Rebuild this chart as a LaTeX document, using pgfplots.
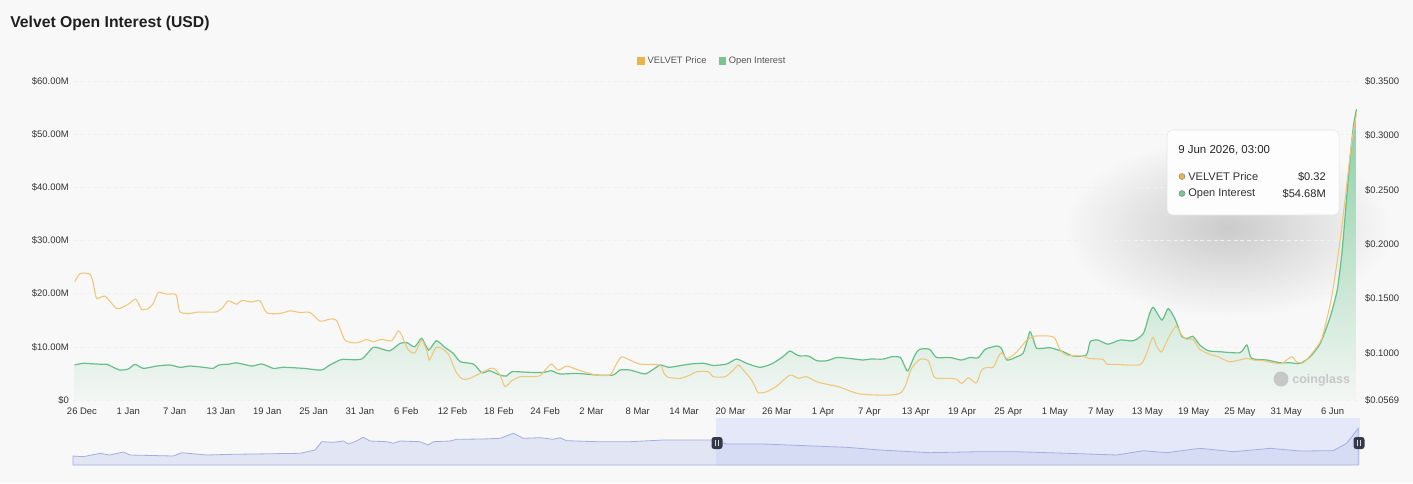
\documentclass[border=0pt]{standalone}
\usepackage{pgfplots}
\pgfplotsset{compat=1.18}
\usepackage{fontspec}
\setmainfont{Liberation Sans}

\definecolor{bg}{HTML}{F8F8F8}
\definecolor{priceC}{HTML}{F0C679}
\definecolor{priceL}{HTML}{E9B44C}
\definecolor{oiC}{HTML}{66BE88}
\definecolor{oiL}{HTML}{77C58F}
\definecolor{oiFill}{HTML}{7ECB9B}
\definecolor{txt}{HTML}{333333}
\definecolor{legtxt}{HTML}{555555}
\definecolor{navL}{HTML}{A3AEE0}
\definecolor{navF}{HTML}{C6CEF0}
\definecolor{navSel}{HTML}{E4E8F8}
\definecolor{handle}{HTML}{353A4A}

\pgfplotstableread{
day oi
-0.95 6.6
0.17 6.9
1.5 6.8
2.76 6.7
3.2 6.75
4.05 6.15
4.92 5.64
6.0 5.83
6.87 6.7
7.94 5.95
9.68 6.39
11.4 6.58
12.7 6.15
14.0 6.39
15.7 6.15
17.0 5.95
17.7 6.58
19.2 6.77
20.0 7.0
22.0 6.39
23.3 6.77
24.8 5.95
26.1 6.15
28.7 5.95
31.0 5.64
32.1 6.58
33.4 7.52
33.8 7.65
36.2 7.7
37.7 9.9
38.6 9.7
39.9 9.27
41.2 10.65
42.1 10.77
43.1 10.0
44.0 11.6
44.9 9.4
45.9 11.15
47.0 9.9
48.1 8.77
49.0 7.2
50.7 6.77
51.8 5.13
52.8 5.5
54.1 4.7
55.0 4.5
55.7 5.32
58.0 5.2
59.8 5.2
60.8 5.5
61.9 4.9
64.1 5.0
66.7 4.7
68.8 4.7
69.7 5.64
71.0 5.64
72.9 4.9
74.0 5.77
74.9 6.58
76.0 6.15
77.2 6.39
78.8 6.77
80.5 6.9
81.8 6.5
83.5 6.77
84.8 7.7
86.1 6.9
87.8 6.15
89.3 6.77
90.8 8.14
91.7 9.2
92.8 8.33
94.1 8.27
95.2 7.39
96.5 7.39
97.8 8.0
99.5 7.8
101.2 7.52
102.1 7.7
103.8 7.7
104.9 8.14
106.0 8.0
106.6 6.26
107.0 5.5
107.9 8.46
108.5 9.53
109.8 9.53
110.7 8.0
112.4 8.0
113.9 7.52
115.0 8.0
116.1 7.95
117.0 9.53
118.5 10.15
119.1 9.72
119.8 7.52
121.1 8.14
121.9 8.77
122.4 10.96
122.8 12.84
123.2 11.6
123.7 9.72
125.4 9.83
127.1 9.08
128.4 8.27
130.1 8.46
130.6 10.96
131.6 11.28
132.9 10.5
134.5 11.28
136.2 11.15
137.5 12.54
138.3 16.3
138.8 17.4
139.9 15.04
140.7 17.2
141.6 15.2
142.5 11.9
143.3 11.6
143.9 12.0
144.8 10.34
145.9 9.27
147.4 9.08
150.0 8.9
150.9 10.34
151.5 7.84
153.5 7.52
155.2 7.0
156.5 7.0
157.8 6.9
159.1 8.14
160.4 10.65
161.7 15.66
162.6 20.7
163.2 27.5
163.8 37.6
164.2 44.5
164.7 51.5
165.1 54.68
}\oitable

\pgfplotstableread{
day price
-0.95 0.1654
-0.26 0.1731
1.04 0.1724
1.46 0.1640
1.9 0.1502
2.98 0.1523
4.5 0.1410
5.79 0.1440
6.96 0.1495
7.73 0.1401
8.59 0.1410
9.24 0.1456
9.88 0.1557
10.97 0.1541
12.18 0.1535
12.69 0.1379
13.99 0.1364
14.86 0.1376
17.45 0.1379
18.3 0.1425
18.95 0.1480
20.04 0.1449
20.69 0.1483
21.98 0.1470
23.06 0.1480
23.93 0.1370
25.65 0.1364
26.94 0.1388
28.24 0.1373
29.53 0.1373
30.83 0.1293
32.12 0.1312
32.99 0.1300
34.07 0.1119
35.58 0.1094
36.88 0.1126
37.73 0.1104
38.82 0.1126
40.12 0.1113
40.97 0.1204
41.41 0.1164
42.27 0.1028
43.13 0.1003
44.0 0.1119
44.65 0.1028
44.99 0.0936
45.85 0.1052
46.59 0.1043
47.45 0.0991
48.54 0.0814
49.39 0.0759
50.26 0.0768
51.13 0.0798
52.42 0.0844
53.28 0.0862
54.15 0.0798
54.8 0.0691
55.66 0.0746
56.74 0.0783
58.03 0.0783
59.33 0.0792
60.19 0.0860
60.84 0.0899
61.7 0.0844
62.79 0.0881
64.08 0.0850
65.38 0.0820
66.67 0.0798
68.39 0.0798
69.26 0.0905
69.91 0.0966
70.98 0.0936
72.28 0.0899
74.87 0.0890
75.39 0.0814
75.95 0.0777
77.46 0.0768
78.76 0.0798
79.63 0.0829
81.13 0.0829
81.78 0.0783
83.29 0.0783
84.37 0.0844
85.02 0.0890
85.67 0.0844
86.75 0.0752
87.18 0.0691
87.6 0.0636
88.69 0.0645
89.99 0.0697
91.71 0.0798
92.79 0.0768
93.87 0.0783
95.17 0.0737
96.89 0.0707
97.97 0.0692
99.48 0.0652
100.78 0.0624
102.94 0.0615
104.66 0.0615
105.96 0.0630
106.61 0.0691
107.47 0.0860
108.55 0.0942
109.62 0.0930
110.27 0.0798
110.71 0.0768
112.44 0.0768
113.3 0.0759
113.95 0.0722
114.8 0.0774
115.25 0.0752
115.89 0.0728
116.54 0.0844
117.19 0.0869
118.04 0.0869
118.69 0.0966
119.13 0.1003
119.78 0.0951
120.63 0.0982
121.5 0.1043
122.37 0.1119
123.45 0.1156
125.39 0.1156
126.04 0.1135
126.68 0.1034
127.55 0.0982
129.7 0.0972
130.35 0.0951
132.29 0.0942
132.73 0.0899
134.03 0.0896
137.05 0.0893
137.91 0.0997
138.69 0.1144
139.29 0.1052
139.86 0.1012
140.71 0.1135
141.71 0.1248
142.45 0.1165
143.1 0.1126
143.87 0.1129
144.82 0.1034
146.11 0.0988
147.19 0.0966
148.7 0.0920
150.87 0.0951
151.72 0.0936
153.02 0.0930
154.31 0.0911
155.4 0.0905
156.7 0.0966
157.34 0.0920
158.2 0.0911
159.5 0.1012
160.6 0.1135
161.7 0.145
162.3 0.17
163.0 0.205
163.6 0.24
164.0 0.265
164.5 0.295
165.1 0.32
}\pricetable

\pgfplotstableread{
x h
73 9
83.3 8.3
100 11.7
110 10
123.3 13
130 10
173.3 9
181.7 12.3
206.7 10
233.3 10.7
300 11.7
315 15
321.7 23.3
333.3 22.7
343.3 24
348.3 21
355 23.3
363.3 27.7
370 24
386.7 23.3
393.3 21.7
400 24
420 23.3
428.3 20
433.3 23.3
450 24
456.7 25.7
483.3 26
500 26.7
513.3 31.7
523.3 26.7
540 27.3
553.3 25.7
560 27.3
566.7 24.3
596.7 23.3
630 23.3
663.3 25
713.3 25
726.7 21
763.3 21
813.3 19
846.7 17.7
880 15
930 12.3
980 13.3
1016.7 13.3
1066.7 11.7
1116.7 10
1143.3 14.3
1166.7 12.3
1200 16.7
1233.3 13.3
1260 15.7
1270 16.7
1300 14
1333.3 14.3
1346.7 21.7
1358.3 36.7
}\navtable

\begin{document}
\begin{tikzpicture}[x=0.75pt,y=0.75pt]
\fill[bg] (0,0) rectangle (1413,483);
\useasboundingbox (0,0) rectangle (1413,483);

% title
\node[anchor=west, inner sep=0pt, font=\fontsize{11.8}{14}\selectfont\bfseries, text=black!88] at (10,459.5) {Velvet Open Interest (USD)};

% tooltip shadow
\shade[inner color=black!18!bg, outer color=bg] (1228,255) ellipse [x radius=165, y radius=90];

% main axis: open interest (left)
\begin{axis}[
  at={(55.125pt,62.25pt)}, anchor=south west,
  scale only axis, width=962.6pt, height=239.25pt,
  xmin=-1.1, xmax=165.16, ymin=0, ymax=60,
  axis line style={draw=none}, major tick length=0pt,
  ytick={0,10,20,30,40,50,60},
  yticklabels={\$0,\$10.00M,\$20.00M,\$30.00M,\$40.00M,\$50.00M,\$60.00M},
  xtick={0,6,...,162},
  xticklabels={26 Dec,1 Jan,7 Jan,13 Jan,19 Jan,25 Jan,31 Jan,6 Feb,12 Feb,18 Feb,24 Feb,2 Mar,8 Mar,14 Mar,20 Mar,26 Mar,1 Apr,7 Apr,13 Apr,19 Apr,25 Apr,1 May,7 May,13 May,19 May,25 May,31 May,6 Jun},
  ymajorgrids, grid style={black!6, dash pattern=on 3pt off 2pt, line width=0.5pt},
  ticklabel style={font=\fontsize{7.1}{8}\selectfont, text=txt},
  xticklabel style={yshift=-2.25pt},
  legend columns=2,
  legend style={at={(0.498,1.063)}, anchor=center, draw=none, fill=none,
    font=\fontsize{7}{8}\selectfont, text=legtxt,
    /tikz/every even column/.append style={column sep=7pt}},
  legend image code/.code={\fill[#1] (0pt,-2.85pt) rectangle (5.7pt,2.85pt);},
]
\addlegendimage{fill=priceL, draw=none}
\addlegendentry{VELVET Price}
\addlegendimage{fill=oiL, draw=none}
\addlegendentry{Open Interest}
\addplot[draw=none, top color=oiFill!92!bg, bottom color=bg!96!oiFill, smooth, tension=0.4, forget plot] table[x=day,y=oi] {\oitable} \closedcycle;
\addplot[oiC, line width=0.9pt, smooth, tension=0.4, forget plot] table[x=day,y=oi] {\oitable};
\end{axis}

% price axis (right)
\begin{axis}[
  at={(55.125pt,62.25pt)}, anchor=south west,
  scale only axis, width=962.6pt, height=239.25pt,
  xmin=-1.1, xmax=165.16, ymin=0.0569, ymax=0.35,
  axis y line*=right, hide x axis,
  axis line style={draw=none}, major tick length=0pt,
  ytick={0.0569,0.1,0.15,0.2,0.25,0.3,0.35},
  yticklabels={\$0.0569,\$0.1000,\$0.1500,\$0.2000,\$0.2500,\$0.3000,\$0.3500},
  yticklabel style={font=\fontsize{7.1}{8}\selectfont, text=txt, xshift=2.5pt},
]
\addplot[priceC, line width=0.8pt, smooth, tension=0.4] table[x=day,y=price] {\pricetable};
\end{axis}

% watermark
\fill[black!22] (1281,104) circle [radius=7.5];
\node[anchor=west, inner sep=0pt, font=\fontsize{9.4}{11}\selectfont\bfseries, text=black!22] at (1292,103) {coinglass};

% tooltip
\fill[white!70!bg, draw=black!10, rounded corners=4pt] (1167,268) rectangle (1339,353);
\node[anchor=west, inner sep=0pt, font=\fontsize{8.6}{10}\selectfont, text=black!85] at (1178,332.5) {9 Jun 2026, 03:00};
\filldraw[fill=priceL, draw=black!45, line width=0.4pt] (1182,306.5) circle [radius=3];
\filldraw[fill=oiL, draw=black!45, line width=0.4pt] (1182,289.5) circle [radius=3];
\node[anchor=west, inner sep=0pt, font=\fontsize{8.3}{10}\selectfont, text=black!80] at (1188,306.5) {VELVET Price};
\node[anchor=west, inner sep=0pt, font=\fontsize{8.3}{10}\selectfont, text=black!80] at (1188,289.5) {Open Interest};
\node[anchor=east, inner sep=0pt, font=\fontsize{8.3}{10}\selectfont, text=black!85] at (1326,306.5) {\$0.32};
\node[anchor=east, inner sep=0pt, font=\fontsize{8.3}{10}\selectfont, text=black!85] at (1326,289.5) {\$54.68M};

% navigator
\begin{axis}[
  at={(54.75pt,13.5pt)}, anchor=south west,
  scale only axis, width=965.25pt, height=35.25pt,
  xmin=73, xmax=1360, ymin=0, ymax=47,
  hide axis, clip=false,
]
\fill[navSel] (axis cs:716,0) rectangle (axis cs:1360,47);
\addplot[navL, line width=0.6pt, fill=navF, fill opacity=0.45] table[x=x,y=h] {\navtable} \closedcycle;
\end{axis}
\fill[handle, rounded corners=2pt] (711.5,34) rectangle (722.5,46);
\draw[white!80!handle, line width=0.5pt] (715.8,37) -- (715.8,43) (718.2,37) -- (718.2,43);
\fill[handle, rounded corners=2pt] (1353.5,34) rectangle (1364.5,46);
\draw[white!80!handle, line width=0.5pt] (1357.8,37) -- (1357.8,43) (1360.2,37) -- (1360.2,43);
\end{tikzpicture}
\end{document}
